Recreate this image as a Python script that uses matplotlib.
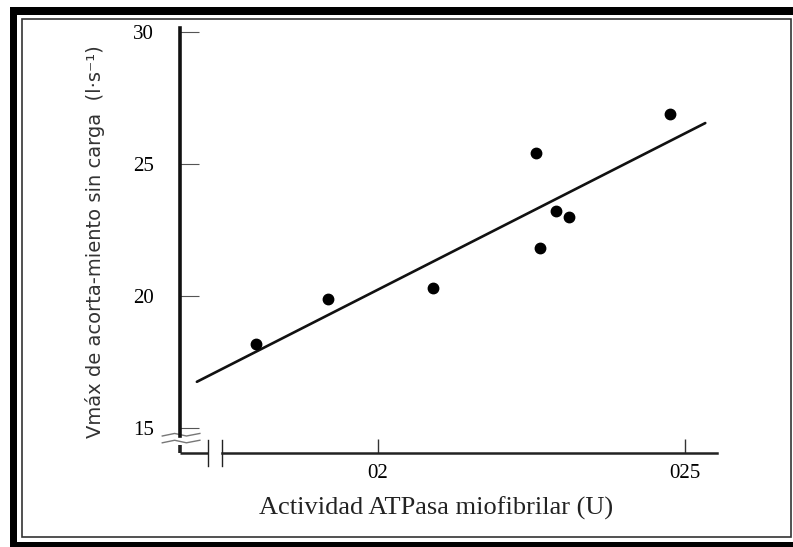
#!/usr/bin/env python3

'''
Vmax of unloaded shortening against myofibrillar ATPase activity,
scatter with regression line, scanned-figure style.
'''

import matplotlib
matplotlib.use('Agg')
import matplotlib.pyplot as plt
from matplotlib.patches import Rectangle

# Data
atpasa = [0.1801, 0.1919, 0.2090, 0.2257, 0.2264, 0.2290, 0.2311, 0.2476]
vmax = [18.2, 19.9, 20.3, 25.4, 21.8, 23.2, 23.0, 26.9]

# Regression line end points
linea_x = [0.1705, 0.2533]
linea_y = [16.75, 26.55]

xticks = [0.2, 0.25]
xtick_labels = ['02', '025']
yticks = [15, 20, 25, 30]

W, H = 793, 547
fig = plt.figure(figsize=(W / 100, H / 100), dpi=100)


def box(x0, y0, x1, y1, **kw):
    '''Rectangle given in pixel coords (origin at top left).'''
    fig.add_artist(Rectangle((x0 / W, 1 - y1 / H), (x1 - x0) / W,
                             (y1 - y0) / H, transform=fig.transFigure, **kw))


# Scanned frame: thick black band plus thin inner line
box(10, 7, 793, 15, color='black', lw=0)
box(10, 7, 17, 547, color='black', lw=0)
box(10, 542, 793, 547, color='black', lw=0)
box(22, 19, 791, 537, fill=False, ec='#333333', lw=1.2)

# Axes placed in pixel coords: x 180..717, y 28..453
ax = fig.add_axes([180 / W, (H - 453) / H, 537 / W, 425 / H])
ax.set_xlim(0.16775, 0.25521)
ax.set_ylim(14.053, 30.15)

ax.plot(linea_x, linea_y, color='#111111', lw=1.9, solid_capstyle='round')
ax.plot(atpasa, vmax, 'o', color='black', ms=7.5, mec='black')

for s in ('top', 'right'):
    ax.spines[s].set_visible(False)
ax.spines['left'].set_linewidth(2.6)
ax.spines['left'].set_color('#111111')
ax.spines['left'].set_bounds(14.70, 30.15)
ax.spines['bottom'].set_linewidth(1.8)
ax.spines['bottom'].set_color('#222222')
ax.spines['bottom'].set_bounds(0.17459, 0.25521)

# axis breaks, drawn in axes coords
brk = dict(transform=ax.transAxes, clip_on=False, color='#222222')
ax.plot([0, 0], [0, 0.019], lw=2.6, solid_capstyle='butt', **brk)
ax.plot([0, 0.052], [0, 0], lw=1.8, solid_capstyle='butt', **brk)
ax.plot([0.052, 0.052], [-0.03, 0.03], lw=1.0, **brk)
ax.plot([0.078, 0.078], [-0.03, 0.03], lw=1.0, **brk)
wave = dict(transform=ax.transAxes, clip_on=False, color='#777777', lw=1.0)
ax.plot([-0.033, -0.010, 0.012, 0.037], [0.040, 0.046, 0.040, 0.046], **wave)
ax.plot([-0.033, -0.010, 0.012, 0.037], [0.024, 0.030, 0.024, 0.030], **wave)

ax.set_xticks(xticks)
ax.set_xticklabels(xtick_labels, family='Liberation Serif', fontsize=15)
ax.set_yticks(yticks)
ax.set_yticklabels([str(t) for t in yticks], family='Liberation Serif',
                   fontsize=15)
ax.tick_params(axis='y', direction='in', length=14, width=0.8,
               color='#555555', pad=19)
ax.tick_params(axis='x', direction='in', length=10, width=1.0,
               color='#333333', pad=8)

fig.text(436 / W, 1 - 508 / H, 'Actividad ATPasa miofibrilar (U)',
         family='Liberation Serif', fontsize=19, color='#222222',
         ha='center', va='center')
fig.text(95 / W, 1 - 242 / H, 'Vmáx de acorta-miento sin carga  (l·s⁻¹)',
         family='DejaVu Sans', fontsize=14, color='#333333',
         rotation=90, ha='center', va='center')

fig.savefig('out.png', dpi=100)
